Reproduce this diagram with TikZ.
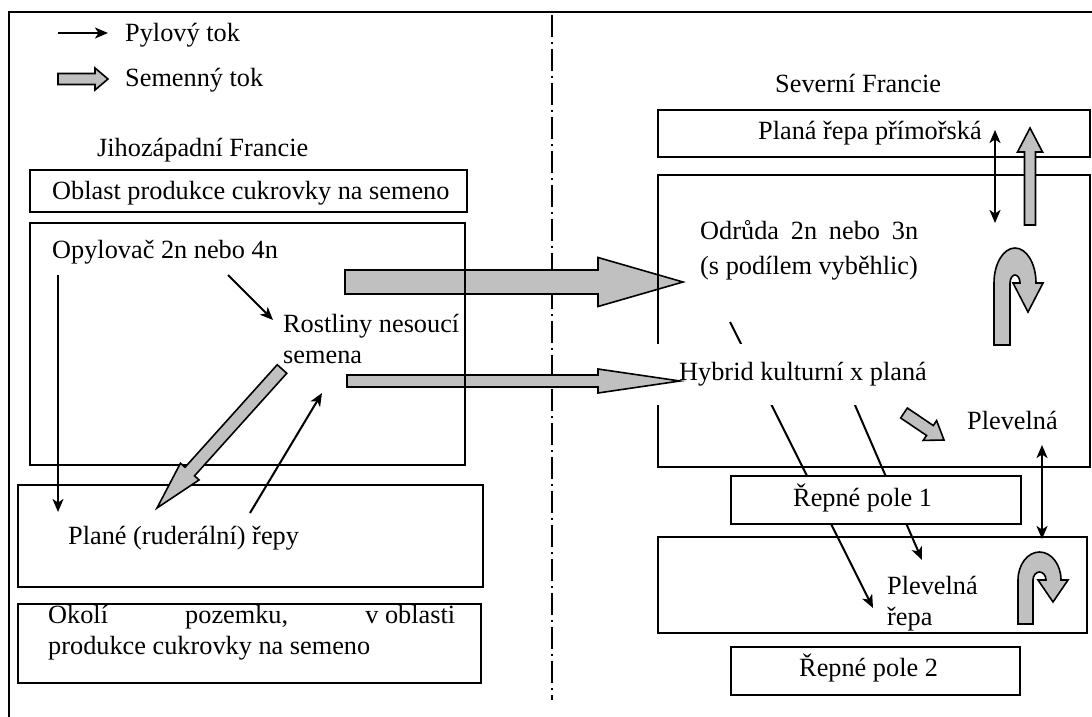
\documentclass[tikz,border=0pt]{standalone}
\usepackage{fontspec}
\setmainfont{Liberation Serif}
\usetikzlibrary{calc,arrows.meta,fit}
\definecolor{seedgray}{RGB}{192,192,192}
\tikzset{
 txt/.style={inner sep=0pt, anchor=west, font=\fontsize{26.3}{31}\selectfont},
 box/.style={draw, line width=2pt, inner sep=0pt},
 pollen/.style={line width=2pt, -{Stealth[length=13pt,width=11pt,inset=3.5pt]}},
 pollentwo/.style={line width=2pt, {Stealth[length=13pt,width=11pt,inset=3.5pt]}-{Stealth[length=13pt,width=11pt,inset=3.5pt]}},
 seed/.style={fill=seedgray, draw=black, line width=1.6pt, line join=miter},
 uturn/.style={fill=seedgray, draw=black, line width=1.6pt},
}
\newcommand{\seedarrow}[5]{%
  \coordinate (#1-#2-h) at ($(#2)!#5!(#1)$);
  \filldraw[seed] ($(#1)!#3!90:(#2)$) -- ($(#1-#2-h)!#3!90:(#2)$) -- ($(#1-#2-h)!#4!90:(#2)$) -- (#2) -- ($(#1-#2-h)!#4!-90:(#2)$) -- ($(#1-#2-h)!#3!-90:(#2)$) -- ($(#1)!#3!-90:(#2)$) -- cycle;}
\begin{document}
\begin{tikzpicture}[x=1pt,y=-1pt]
\useasboundingbox (0,0) rectangle (1092,717);
\draw[line width=2.8pt] (9,12) rectangle (1110,730);
\draw[line width=1.3pt, dash pattern=on 22pt off 5pt on 2pt off 5pt] (552,15) -- (552,700);
% legend
\coordinate (lp1) at (58,33); \coordinate (lp2) at (108,33);
\draw[pollen] (lp1) -- (lp2);
\node[txt] (lpt) at (125,35) {Pylový tok};
\coordinate (ls1) at (58,79); \coordinate (ls2) at (108,79);
\seedarrow{ls1}{ls2}{5.5pt}{11pt}{13pt}
\node[txt] (lst) at (125,80) {Semenný tok};
% left titles
\node[txt] (jz) at (97,150) {Jihozápadní Francie};
\node[box, fit={(30,170) (467,212)}] (oblast) {};
\node[txt] (oblastt) at (52,193) {Oblast produkce cukrovky na semeno};
% big seed arrow 1
\coordinate (a1s) at (345,282); \coordinate (a1e) at (683,282);
\seedarrow{a1s}{a1e}{12pt}{24.5pt}{85pt}
% Odruda box
\node[box, fit={(658,175) (1090,467)}] (odr) {};
\node[txt, align=left, font=\fontsize{26.3}{35}\selectfont] (odrt) at (700,250) {\hbox to 218pt{Odrůda\hfill 2n\hfill nebo\hfill 3n}\\(s podílem vyběhlic)};
% pollen lines to Plevelna repa
\coordinate (pa1) at (730,322); \coordinate (pa2) at (873,608);
\coordinate (pb1) at (845,382); \coordinate (pb2) at (922,560);
\draw[pollen] (pa1) -- (pa2);
\draw[pollen] (pb1) -- (pb2);
\node[txt, fill=white, minimum height=61pt] (hyb) at (656,374.5) {\hspace{23pt}Hybrid kulturní x planá\hspace{10pt}};
% seed arrow 2
\coordinate (a2s) at (347,381); \coordinate (a2e) at (680,381);
\seedarrow{a2s}{a2e}{6pt}{12pt}{82pt}
% left boxes
\node[box, fit={(30,223) (465,465)}] (opyl) {};
\node[txt] (opylt) at (52,252) {Opylovač 2n nebo 4n};
\node[txt, align=left] (rost) at (283,338.5) {Rostliny nesoucí\\semena};
\node[box, fit={(18,485) (483,587)}] (plane) {};
\node[txt] (planet) at (68,538) {Plané (ruderální) řepy};
\node[box, fit={(18,604) (481,683)}] (okoli) {};
\node[txt, align=left] (okolit) at (48,633) {\hbox to 407pt{Okolí\hfill pozemku,\hfill v oblasti}\\produkce cukrovky na semeno};
% left pollen arrows
\coordinate (p1s) at (58,275); \coordinate (p1e) at (58,512);
\coordinate (p2s) at (228,275); \coordinate (p2e) at (273,320);
\coordinate (p3s) at (250,513); \coordinate (p3e) at (322,393);
\draw[pollen] (p1s) -- (p1e);
\draw[pollen] (p2s) -- (p2e);
\draw[pollen] (p3s) -- (p3e);
\coordinate (dgs) at (282,369); \coordinate (dge) at (157,508);
\seedarrow{dgs}{dge}{6.4pt}{12.5pt}{49pt}
% right side
\node[txt] (sev) at (775,83) {Severní Francie};
\node[box, fit={(658,110) (1090,157)}] (plana) {};
\node[txt] (planat) at (758,133) {Planá řepa přímořská};
\coordinate (d1a) at (995,130); \coordinate (d1b) at (995,223);
\draw[pollentwo] (d1a) -- (d1b);
\coordinate (ups) at (1030,225); \coordinate (upe) at (1030,128);
\seedarrow{ups}{upe}{5.5pt}{12.5pt}{24pt}
% u-turn 1
\filldraw[uturn] (994,345) -- (994,283) arc[start angle=180,end angle=0,x radius=21pt,y radius=35pt] -- (1043,283) -- (1028,312) -- (1013,283) -- (1020,283) arc[start angle=0,end angle=180,x radius=5pt,y radius=8pt] -- (1010,345) -- cycle;
\coordinate (sds) at (904,413); \coordinate (sde) at (944,440);
\seedarrow{sds}{sde}{6pt}{12pt}{17pt}
\node[txt] (plev) at (967,420) {Plevelná};
\coordinate (d2a) at (1042,445); \coordinate (d2b) at (1042,539);
\draw[pollentwo] (d2a) -- (d2b);
\node[box, fill=white, fit={(731,476) (1021,524)}] (rp1) {};
\node[txt] (rp1t) at (793,498) {Řepné pole 1};
\node[box, fit={(658,537) (1087,633)}] (pr) {};
\node[txt, align=left] (prt) at (887,604) {Plevelná\\řepa};
% u-turn 2
\filldraw[uturn] (1018,624) -- (1018,580) arc[start angle=180,end angle=0,x radius=21.5pt,y radius=28pt] -- (1068,580) -- (1053,602) -- (1038,580) -- (1046,580) arc[start angle=0,end angle=180,x radius=6.5pt,y radius=8pt] -- (1033,624) -- cycle;
\node[box, fit={(731,647) (1020,695)}] (rp2) {};
\node[txt] (rp2t) at (799,668) {Řepné pole 2};
\end{tikzpicture}
\end{document}
